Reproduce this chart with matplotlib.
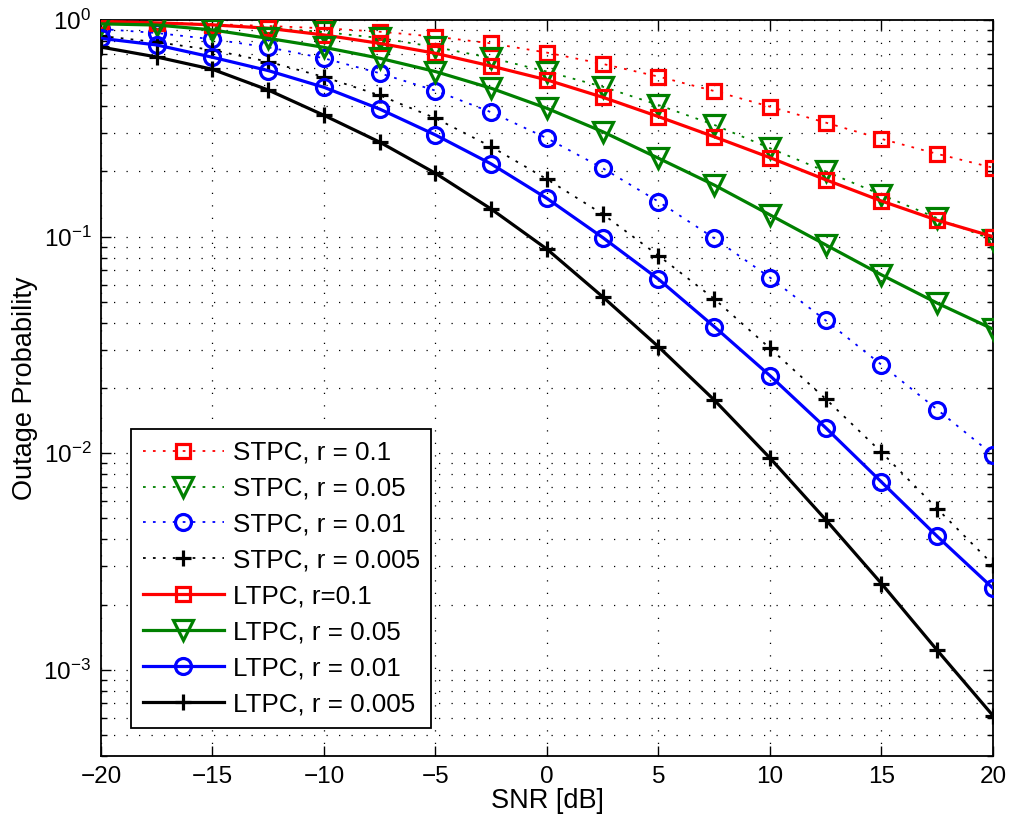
import matplotlib
matplotlib.use("Agg")
import matplotlib.pyplot as plt
import numpy as np
from matplotlib.ticker import LogLocator, NullFormatter

plt.rcParams["font.family"] = ["Liberation Sans", "DejaVu Sans"]
plt.rcParams["mathtext.fontset"] = "custom"
plt.rcParams["mathtext.rm"] = "Liberation Sans"

snr = [-20, -17.5, -15, -12.5, -10, -7.5, -5, -2.5, 0,
       2.5, 5, 7.5, 10, 12.5, 15, 17.5, 20]

# short-term power control
stpc_01 = [0.985, 0.974, 0.958, 0.938, 0.916, 0.883, 0.838, 0.78, 0.707,
           0.627, 0.548, 0.47, 0.398, 0.336, 0.2825, 0.241, 0.208]
stpc_005 = [0.98, 0.97, 0.95, 0.92, 0.88, 0.826, 0.75, 0.668, 0.578,
            0.492, 0.405, 0.328, 0.256, 0.2, 0.156, 0.1216, 0.0966]
stpc_001 = [0.909, 0.871, 0.815, 0.748, 0.666, 0.568, 0.472, 0.375, 0.2845,
            0.207, 0.145, 0.0983, 0.0647, 0.041, 0.0256, 0.0159, 0.00983]
stpc_0005 = [0.844, 0.79, 0.727, 0.642, 0.546, 0.449, 0.352, 0.26, 0.184,
             0.127, 0.0817, 0.0516, 0.0305, 0.0178, 0.0101, 0.00554, 0.00306]

# long-term power control
ltpc_01 = [0.985, 0.97, 0.95, 0.916, 0.853, 0.78, 0.702, 0.613, 0.529,
           0.44, 0.358, 0.289, 0.2315, 0.183, 0.146, 0.119, 0.1]
ltpc_005 = [0.96, 0.948, 0.9, 0.823, 0.748, 0.666, 0.578, 0.484, 0.391,
            0.305, 0.23, 0.173, 0.126, 0.0916, 0.0666, 0.0493, 0.0374]
ltpc_001 = [0.823, 0.767, 0.673, 0.584, 0.489, 0.388, 0.2946, 0.2165, 0.150,
            0.099, 0.0636, 0.0384, 0.0228, 0.0131, 0.00736, 0.00413, 0.00238]
ltpc_0005 = [0.75, 0.675, 0.592, 0.475, 0.363, 0.273, 0.196, 0.134, 0.0875,
             0.0527, 0.031, 0.0176, 0.0095, 0.00493, 0.0025, 0.00123, 0.000614]

labels = ["STPC, r = 0.1", "STPC, r = 0.05", "STPC, r = 0.01", "STPC, r = 0.005",
          "LTPC, r=0.1", "LTPC, r = 0.05", "LTPC, r = 0.01", "LTPC, r = 0.005"]

series = [stpc_01, stpc_005, stpc_001, stpc_0005,
          ltpc_01, ltpc_005, ltpc_001, ltpc_0005]
colors = ["#ff0000", "#008000", "#0000ff", "#000000"] * 2
markers = ["s", "v", "o", "+"] * 2
msizes = {"s": 10, "v": 14, "o": 11.5, "+": 12}

fig = plt.figure(figsize=(10.12, 8.27), dpi=100)
ax = fig.add_axes([0.0998, 0.0859, 0.8814, 0.8899])

for i, (ys, lab) in enumerate(zip(series, labels)):
    dotted = i < 4
    ax.semilogy(snr, ys, color=colors[i], marker=markers[i],
                linestyle=(0, (1.5, 4)) if dotted else "-",
                linewidth=1.3 if dotted else 2.3,
                markersize=msizes[markers[i]], markeredgewidth=2.3,
                markerfacecolor="none", label=lab, zorder=3)

ax.set_xlim(-20, 20)
ax.set_ylim(4e-4, 1)
ax.set_xticks(np.arange(-20, 21, 5))
ax.yaxis.set_major_locator(LogLocator(base=10, numticks=10))
ax.yaxis.set_minor_locator(LogLocator(base=10, subs=np.arange(2, 10), numticks=20))
ax.yaxis.set_minor_formatter(NullFormatter())

grid_style = dict(linestyle=(0, (1, 9)), color="#000000", linewidth=0.9)
ax.grid(True, which="major", **grid_style)
ax.grid(True, which="minor", axis="y", **grid_style)

ax.tick_params(which="both", direction="in", top=True, right=True, labelsize=17.5)
ax.tick_params(which="major", length=7, width=1, pad=7)
ax.tick_params(which="minor", length=4, width=1)
for s in ax.spines.values():
    s.set_linewidth(1.3)

ax.set_xlabel("SNR [dB]", fontsize=19.5, labelpad=0)
ax.set_ylabel("Outage Probability", fontsize=19.5, labelpad=4)

leg = ax.legend(loc="lower left", bbox_to_anchor=(0.034, 0.038), fontsize=18.7,
                handlelength=3.1, labelspacing=0.46, borderpad=0.45,
                handletextpad=0.35, fancybox=False, framealpha=1,
                edgecolor="black", borderaxespad=0)
leg.get_frame().set_linewidth(1.3)

fig.savefig("out.png", dpi=100)
